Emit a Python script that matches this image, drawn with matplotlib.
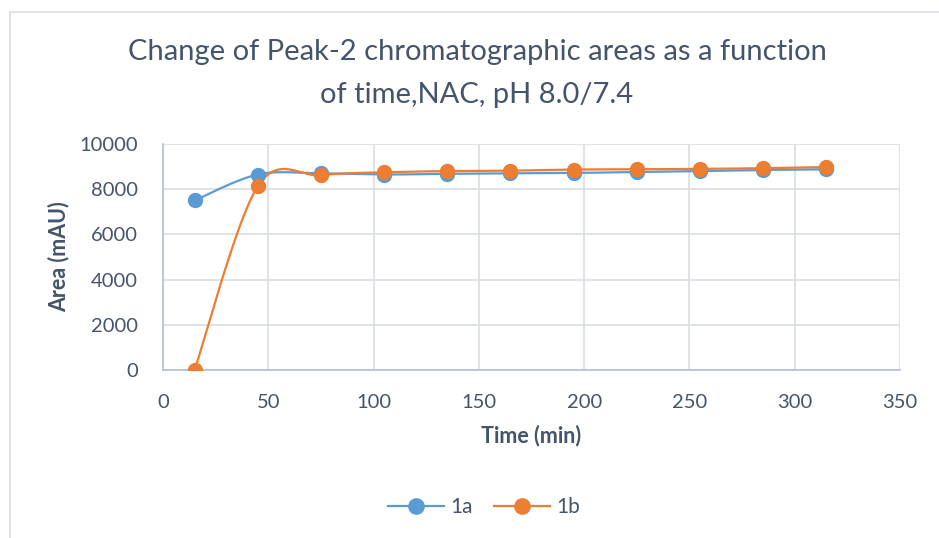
import numpy as np
import matplotlib.pyplot as plt
from matplotlib.patches import Rectangle

time_min = [15, 45, 75, 105, 135, 165, 195, 225, 255, 285, 315]
area_1a = [7500, 8650, 8700, 8650, 8680, 8700, 8720, 8760, 8800, 8850, 8880]
area_1b = [0, 8130, 8620, 8750, 8800, 8820, 8870, 8880, 8900, 8930, 8980]

blue = '#5b9bd5'
orange = '#ed7d31'
text_col = '#44546a'
grid_col = '#d9dde3'


def smooth(x, y, n=30):
    # Catmull-Rom style curve through the points, like the spreadsheet "smoothed line"
    x = np.asarray(x, float)
    y = np.asarray(y, float)
    px = np.concatenate([[x[0]], x, [x[-1]]])
    py = np.concatenate([[y[0]], y, [y[-1]]])
    xs, ys = [], []
    t = np.linspace(0, 1, n)
    for i in range(1, len(px) - 2):
        p0, p1, p2, p3 = (np.array([px[j], py[j]]) for j in range(i - 1, i + 3))
        c1 = p1 + (p2 - p0) / 6
        c2 = p2 - (p3 - p1) / 6
        seg = ((1 - t) ** 3)[:, None] * p1 + (3 * (1 - t) ** 2 * t)[:, None] * c1 \
            + (3 * (1 - t) * t ** 2)[:, None] * c2 + (t ** 3)[:, None] * p2
        xs.extend(seg[:, 0])
        ys.extend(seg[:, 1])
    return xs, ys


plt.rcParams['font.family'] = ['Lato', 'DejaVu Sans']

fig = plt.figure(figsize=(9.39, 5.38), dpi=100)
fig.patches.append(Rectangle((10 / 939, -0.1), 1.1, 1 - 12 / 538 + 0.1, transform=fig.transFigure,
                             fill=False, edgecolor=grid_col, linewidth=1.2))
ax = fig.add_axes([163 / 939, 1 - 370 / 538, (900 - 163) / 939, (370 - 144) / 538])

for y, c, lab in [(area_1a, blue, '1a'), (area_1b, orange, '1b')]:
    sx, sy = smooth(time_min, y)
    ax.plot(sx, sy, color=c, linewidth=1.6, zorder=3)
    ax.plot(time_min, y, 'o', color=c, markersize=10, zorder=4)
    ax.plot([], [], '-o', color=c, markersize=11, linewidth=1.6, label=lab)

ax.set_xlim(0, 350)
ax.set_ylim(0, 10000)
ax.set_xticks(np.arange(0, 351, 50))
ax.set_yticks(np.arange(0, 10001, 2000))
ax.grid(True, color=grid_col, linewidth=1.2)
ax.set_axisbelow(True)
for s in ['top', 'right']:
    ax.spines[s].set_visible(False)
for s in ['left', 'bottom']:
    ax.spines[s].set_color('#b4bfcf')
    ax.spines[s].set_linewidth(1.2)
ax.tick_params(length=0, labelsize=14.5, colors=text_col)
ax.tick_params(axis='x', pad=17)
ax.tick_params(axis='y', pad=18)

ax.set_xlabel('Time (min)', fontsize=15.5, fontweight='bold', color=text_col, labelpad=10)
ax.set_ylabel('Area (mAU)', fontsize=15.5, fontweight='bold', color=text_col, labelpad=7)

fig.text(0.508, 1 - 52 / 538, 'Change of Peak-2 chromatographic areas as a function',
         ha='center', va='center', fontsize=21, color=text_col)
fig.text(0.508, 1 - 95 / 538, 'of time,NAC, pH 8.0/7.4',
         ha='center', va='center', fontsize=21, color=text_col)

fig.legend(loc='center', bbox_to_anchor=(484 / 939, 1 - 507 / 538), ncol=2, frameon=False,
           fontsize=15, labelcolor=text_col, handlelength=2.7, columnspacing=1.0, handletextpad=0.3)

fig.savefig('out.png', dpi=100)
